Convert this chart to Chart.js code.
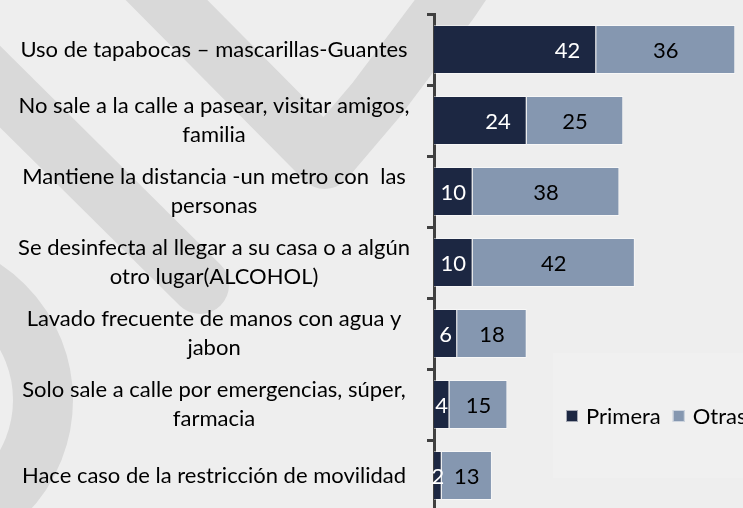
<!DOCTYPE html>
<html>
<head>
<meta charset="utf-8">
<script src="https://cdn.jsdelivr.net/npm/chart.js@4/dist/chart.umd.min.js"></script>
<style>
  html, body { margin: 0; padding: 0; overflow: hidden; background: #eeeeee; }
  #wrap { width: 743px; height: 520px; }
</style>
</head>
<body>
<div id="wrap"><canvas id="chart" width="743" height="520"></canvas></div>
<script>
// chart data
const categories = [
  'Uso de tapabocas – mascarillas-Guantes',
  ['No sale a la calle a pasear, visitar amigos,', 'familia'],
  ['Mantiene la distancia -un metro con  las', 'personas'],
  ['Se desinfecta al llegar a su casa o a algún', 'otro lugar(ALCOHOL)'],
  ['Lavado frecuente de manos con agua y', 'jabon'],
  ['Solo sale a calle por emergencias, súper,', 'farmacia'],
  'Hace caso de la restricción de movilidad'
];
const primera = [42, 24, 10, 10, 6, 4, 2];
const otras = [36, 25, 38, 42, 18, 15, 13];
const seriesNames = ['Primera', 'Otras'];
const seriesColors = ['#1c2742', '#8597b0'];
const labelColors = ['#ffffff', '#000000'];
const xMax = 80;

const FONT = 'Lato, "Open Sans", sans-serif';
const FONT_SIZE = 22;

// grey watermark shapes behind the chart
const background = {
  id: 'background',
  beforeDraw(chart) {
    const ctx = chart.ctx;
    ctx.save();
    ctx.fillStyle = '#eeeeee';
    ctx.fillRect(0, 0, chart.width, chart.height);

    ctx.strokeStyle = '#d9d9d9';
    ctx.lineWidth = 58;
    ctx.lineCap = 'round';
    ctx.lineJoin = 'round';

    // V shape at the top
    ctx.beginPath();
    ctx.moveTo(110, -57);
    ctx.lineTo(325, 160);
    ctx.lineTo(376, 100);
    ctx.lineTo(451, 0);
    ctx.lineTo(478, -40);
    ctx.stroke();

    // diagonal stripe on the left
    ctx.beginPath();
    ctx.moveTo(-60, 27);
    ctx.lineTo(200, 285);
    ctx.stroke();

    // ring at the bottom left
    ctx.lineWidth = 60;
    ctx.beginPath();
    ctx.arc(-90, 400, 133, -Math.PI / 2, Math.PI / 2);
    ctx.stroke();

    // lighter legend box
    ctx.fillStyle = '#f0f0f0';
    ctx.fillRect(553, 353, 190, 125);
    ctx.restore();
  }
};

// value labels on the bars
const barLabels = {
  id: 'barLabels',
  afterDatasetsDraw(chart) {
    const ctx = chart.ctx;
    ctx.save();
    ctx.font = FONT_SIZE + 'px ' + FONT;
    ctx.textBaseline = 'middle';
    ctx.textAlign = 'center';
    chart.data.datasets.forEach((ds, i) => {
      const meta = chart.getDatasetMeta(i);
      ctx.fillStyle = labelColors[i];
      meta.data.forEach((bar, j) => {
        const text = String(ds.data[j]);
        const w = ctx.measureText(text).width;
        const mid = (bar.base + bar.x) / 2;
        let cx = mid;
        if (i === 0) {
          cx = Math.max(mid, bar.x - 16 - w / 2);
        }
        ctx.fillText(text, cx, bar.y + 1);
      });
    });
    ctx.restore();
  }
};

// legend placed inside the plot, lower right
const innerLegend = {
  id: 'innerLegend',
  afterDraw(chart) {
    const ctx = chart.ctx;
    ctx.save();
    ctx.font = FONT_SIZE + 'px ' + FONT;
    ctx.textBaseline = 'middle';
    ctx.textAlign = 'left';
    let x = 566;
    const y = 416;
    chart.data.datasets.forEach((ds) => {
      ctx.fillStyle = ds.backgroundColor;
      ctx.fillRect(x, y - 6, 12, 12);
      ctx.strokeStyle = 'rgba(255,255,255,0.6)';
      ctx.lineWidth = 1;
      ctx.strokeRect(x + 0.5, y - 5.5, 11, 11);
      ctx.fillStyle = '#000000';
      ctx.fillText(ds.label, x + 20, y + 1);
      x += 20 + ctx.measureText(ds.label).width + 12;
    });
    ctx.restore();
  }
};

const ctx = document.getElementById('chart').getContext('2d');
new Chart(ctx, {
  type: 'bar',
  data: {
    labels: categories,
    datasets: [{
      label: seriesNames[0],
      data: primera,
      backgroundColor: seriesColors[0],
      borderColor: 'rgba(255,255,255,0.45)',
      borderWidth: 1,
      barPercentage: 0.69,
      categoryPercentage: 1
    }, {
      label: seriesNames[1],
      data: otras,
      backgroundColor: seriesColors[1],
      borderColor: 'rgba(255,255,255,0.5)',
      borderWidth: 1,
      barPercentage: 0.69,
      categoryPercentage: 1
    }]
  },
  options: {
    indexAxis: 'y',
    responsive: false,
    animation: false,
    layout: {
      padding: { top: 14, bottom: 9, left: 0, right: 0 }
    },
    plugins: {
      legend: { display: false },
      tooltip: { enabled: false },
      title: { display: false }
    },
    scales: {
      x: {
        display: false,
        stacked: true,
        min: 0,
        max: xMax
      },
      y: {
        stacked: true,
        afterFit(scale) {
          scale.width = 434;
          scale.paddingTop = 0;
          scale.paddingBottom = 0;
        },
        border: {
          display: true,
          color: '#404040',
          width: 3
        },
        grid: {
          drawOnChartArea: false,
          drawTicks: true,
          tickLength: 7,
          tickWidth: 3,
          tickColor: '#404040',
          offset: true
        },
        ticks: {
          autoSkip: false,
          crossAlign: 'center',
          padding: 17,
          color: '#000000',
          font: {
            family: FONT,
            size: FONT_SIZE,
            lineHeight: '29px'
          }
        }
      }
    }
  },
  plugins: [background, barLabels, innerLegend]
});
</script>
</body>
</html>
